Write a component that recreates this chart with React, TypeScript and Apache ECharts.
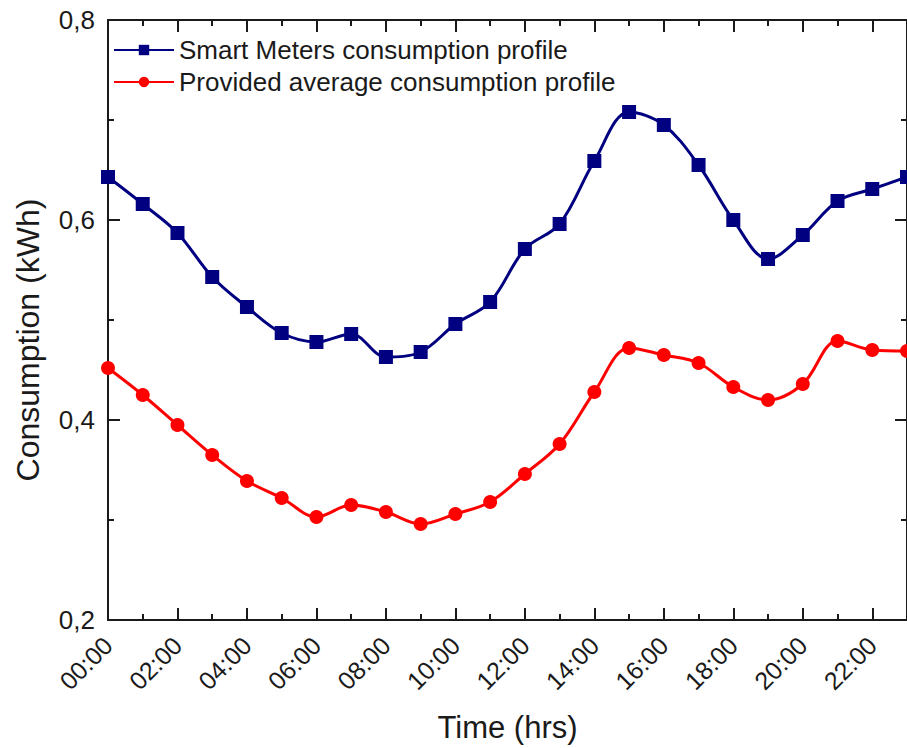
import React, { useEffect, useRef } from "react";
import * as echarts from "echarts";

const hours = [0, 1, 2, 3, 4, 5, 6, 7, 8, 9, 10, 11, 12, 13, 14, 15, 16, 17, 18, 19, 20, 21, 22, 23];
const smartMeters = [0.643, 0.616, 0.587, 0.543, 0.513, 0.487, 0.478, 0.486, 0.463, 0.468, 0.496, 0.518, 0.571, 0.596, 0.659, 0.708, 0.695, 0.655, 0.600, 0.561, 0.585, 0.619, 0.631, 0.643];
const providedAverage = [0.452, 0.425, 0.395, 0.365, 0.339, 0.322, 0.303, 0.315, 0.308, 0.296, 0.306, 0.318, 0.346, 0.376, 0.428, 0.472, 0.465, 0.457, 0.433, 0.420, 0.436, 0.479, 0.470, 0.469];
const seriesNames = ["Smart Meters consumption profile", "Provided average consumption profile"];
const xAxisTitle = "Time (hrs)";
const yAxisTitle = "Consumption (kWh)";

const FONT = "Liberation Sans, Arial, sans-serif";
const INK = "#1a1a1a";

const hourLabel = (v: number) => (v % 2 === 0 ? (v < 10 ? "0" + v : "" + v) + ":00" : "");
const yLabel = (v: number) => v.toFixed(1).replace(".", ",");

export default function App() {
  const ref = useRef<HTMLDivElement>(null);
  useEffect(() => {
    if (!ref.current) return;
    const chart = echarts.init(ref.current, null, { renderer: "svg" });
    const lineStyle = { color: INK, width: 2 };
    const baseX = {
      type: "value",
      min: 0,
      max: 23,
      gridIndex: 0,
      splitLine: { show: false },
      axisLine: { show: true, onZero: false, lineStyle },
      axisTick: { show: true, inside: true, length: 12, lineStyle },
      axisLabel: { show: false },
    };
    const baseY = {
      type: "value",
      min: 0.2,
      max: 0.8,
      interval: 0.2,
      splitLine: { show: false },
      axisLine: { show: true, onZero: false, lineStyle },
      axisTick: { show: true, inside: true, length: 12, lineStyle },
      minorTick: { show: true, splitNumber: 2, length: 6, lineStyle },
      minorSplitLine: { show: false },
    };
    chart.setOption({
      animation: false,
      backgroundColor: "#ffffff",
      textStyle: { fontFamily: FONT, color: INK },
      grid: { left: 108, top: 20, width: 802, height: 600, containLabel: false },
      legend: {
        orient: "vertical",
        left: 108,
        top: 32,
        itemWidth: 60,
        itemHeight: 13,
        itemGap: 6,
        textStyle: { fontSize: 26, color: INK, fontFamily: FONT },
        data: seriesNames,
      },
      xAxis: [
        {
          ...baseX,
          position: "bottom",
          interval: 2,
          axisLabel: {
            show: true,
            rotate: 45,
            fontSize: 25,
            margin: 21,
            color: INK,
            fontFamily: FONT,
            showMaxLabel: false,
            formatter: (v: number) => hourLabel(v),
          },
          name: xAxisTitle,
          nameLocation: "middle",
          nameGap: 92,
          nameTextStyle: { fontSize: 31, color: INK, fontFamily: FONT },
        },
        {
          ...baseX,
          position: "bottom",
          interval: 1,
          axisLine: { show: false, onZero: false },
          axisTick: { show: true, inside: true, length: 6, lineStyle },
        },
        {
          ...baseX,
          position: "top",
          interval: 2,
        },
        {
          ...baseX,
          position: "top",
          interval: 1,
          axisLine: { show: false, onZero: false },
          axisTick: { show: true, inside: true, length: 6, lineStyle },
        },
      ],
      yAxis: [
        {
          ...baseY,
          position: "left",
          axisLabel: { show: true, fontSize: 26, margin: 13, color: INK, fontFamily: FONT, formatter: (v: number) => yLabel(v) },
          name: yAxisTitle,
          nameLocation: "middle",
          nameGap: 64,
          nameTextStyle: { fontSize: 32, color: INK, fontFamily: FONT, padding: [0, 40, 0, 0] },
        },
        {
          ...baseY,
          position: "right",
          axisLabel: { show: false },
        },
      ],
      series: [
        {
          name: seriesNames[0],
          type: "line",
          xAxisIndex: 0,
          yAxisIndex: 0,
          data: hours.map((h, i) => [h, smartMeters[i]]),
          smooth: 0.35,
          symbol: "rect",
          symbolSize: 14,
          lineStyle: { color: "#000080", width: 3 },
          itemStyle: { color: "#000080" },
          clip: false,
        },
        {
          name: seriesNames[1],
          type: "line",
          xAxisIndex: 0,
          yAxisIndex: 0,
          data: hours.map((h, i) => [h, providedAverage[i]]),
          smooth: 0.35,
          symbol: "circle",
          symbolSize: 14,
          lineStyle: { color: "#ff0000", width: 3 },
          itemStyle: { color: "#ff0000" },
          clip: false,
        },
      ],
    } as any);
    return () => chart.dispose();
  }, []);
  return (
    <div
      ref={ref}
      style={{ position: "fixed", left: 0, top: 0, width: 907, height: 748, background: "#fff" }}
    />
  );
}
